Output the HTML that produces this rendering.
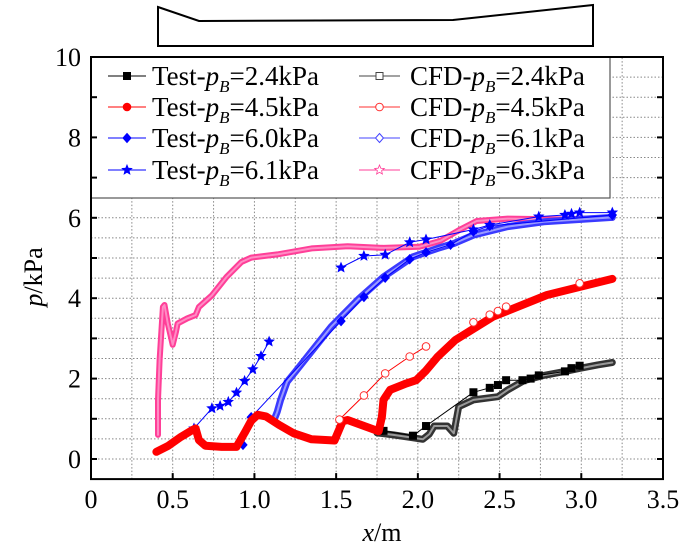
<!DOCTYPE html>
<html><head><meta charset="utf-8"><style>
body{margin:0;background:#fff;}
svg{display:block;}
svg text{font-family:"Liberation Serif","DejaVu Serif","Times New Roman",serif;}
</style></head><body>
<svg id="chart" width="700" height="549" viewBox="0 0 700 549" xmlns="http://www.w3.org/2000/svg">
<polygon points="158,7 199,21 453,20 593,5 593,46 158,46" fill="none" stroke="#000" stroke-width="2"/>
<g id="grid"></g>
<g id="series"></g>
<rect x="91" y="57" width="519" height="141" fill="#fff" stroke="#555" stroke-width="1.2"/>
<g id="legend"></g>
<g id="axes"></g>
<text transform="translate(42,277) rotate(-90)" text-anchor="middle" font-size="26"><tspan font-style="italic">p</tspan>/kPa</text>
<text x="382" y="541" text-anchor="middle" font-size="26"><tspan font-style="italic">x</tspan>/m</text>
</svg>
<script>
const xTicks=[0,0.5,1.0,1.5,2.0,2.5,3.0,3.5];
const xTickLabels=["0","0.5","1.0","1.5","2.0","2.5","3.0","3.5"];
const yTicks=[0,2,4,6,8,10];
const yTickLabels=["0","2","4","6","8","10"];
// Test 2.4
const t24x=[1.79,1.97,2.05,2.34,2.44,2.49,2.54,2.64,2.69,2.74,2.90,2.94,2.99];
const t24y=[0.70,0.58,0.82,1.66,1.77,1.84,1.96,1.96,2.00,2.08,2.18,2.26,2.32];
// CFD 2.4
const c24x=[1.75,1.85,1.95,2.03,2.07,2.10,2.18,2.22,2.25,2.34,2.49,2.55,2.65,2.77,2.9,3.0,3.1,3.19];
const c24y=[0.65,0.6,0.54,0.49,0.62,0.82,0.82,0.64,1.3,1.47,1.55,1.72,1.95,2.08,2.18,2.26,2.34,2.40];
// Test 4.5
const t45x=[0.40,0.47,0.55,0.62,0.64,0.66,0.70,0.80,0.89,0.94,0.98,1.02,1.07,1.15,1.24,1.35,1.49,1.54,1.57,1.76,1.78,1.79,1.83,1.93,1.99,2.05,2.12,2.23,2.46,2.79,3.19];
const t45y=[0.18,0.32,0.55,0.72,0.76,0.47,0.33,0.30,0.30,0.65,0.95,1.10,1.06,0.85,0.64,0.49,0.46,0.94,0.97,0.69,1.05,1.47,1.72,1.88,1.96,2.2,2.54,2.96,3.54,4.08,4.48];
// CFD 4.5
const c45x=[1.52,1.67,1.80,1.95,2.05,2.34,2.44,2.49,2.54,2.99];
const c45y=[0.98,1.58,2.13,2.55,2.80,3.40,3.59,3.68,3.79,4.37];
// Test 6.0
const t60x=[0.93,0.98,1.53,1.67,1.80,1.95,2.05,2.20,2.34,2.44,3.19];
const t60y=[0.35,1.04,3.43,4.03,4.51,4.97,5.14,5.33,5.66,5.80,6.07];
// CFD 6.1
const c61x=[1.12,1.14,1.16,1.20,1.25,1.34,1.47,1.64,1.79,1.97,2.12,2.22,2.34,2.55,2.77,3.19];
const c61y=[0.97,1.18,1.47,1.92,2.17,2.63,3.29,3.99,4.53,5.03,5.24,5.36,5.57,5.78,5.90,6.01];
// Test 6.1
const t61x=[0.63,0.74,0.79,0.84,0.89,0.94,0.99,1.04,1.09];
const t61y=[0.76,1.26,1.32,1.42,1.65,1.94,2.23,2.56,2.92];
const t61bx=[1.53,1.67,1.80,1.95,2.05,2.34,2.44,2.74,2.90,2.94,2.99,3.19];
const t61by=[4.76,5.05,5.08,5.39,5.46,5.71,5.82,6.03,6.07,6.10,6.13,6.13];
// CFD 6.3
const c63x=[0.41,0.41,0.42,0.44,0.45,0.47,0.50,0.52,0.53,0.59,0.64,0.66,0.74,0.83,0.92,0.98,1.14,1.35,1.57,1.79,2.01,2.14,2.25,2.36,2.55,2.88,3.19];
const c63y=[0.6,1.47,2.46,3.78,3.83,3.37,2.84,3.17,3.37,3.5,3.58,3.78,4.07,4.53,4.9,5.01,5.09,5.24,5.29,5.25,5.28,5.43,5.69,5.92,5.98,5.96,6.0];

const NS="http://www.w3.org/2000/svg";
const X0=91,X1=663,Y0=459,Y10=57;
function sx(v){return X0+(X1-X0)*v/3.5;}
function sy(v){return Y0+(Y10-Y0)*v/10;}
function mk(tag,attrs,parent){const e=document.createElementNS(NS,tag);for(const k in attrs)e.setAttribute(k,attrs[k]);parent.appendChild(e);return e;}
const grid=document.getElementById('grid'),ser=document.getElementById('series'),axes=document.getElementById('axes'),leg=document.getElementById('legend');
for(let v=0.25;v<3.5;v+=0.25){const l=mk('line',{x1:sx(v),x2:sx(v),y1:sy(-0.5),y2:sy(10),stroke:'#888','stroke-width':1,'stroke-dasharray':'1.5,2'},grid);

}
for(let v=0;v<10;v+=0.5){const l=mk('line',{x1:X0,x2:X1,y1:sy(v),y2:sy(v),stroke:'#888','stroke-width':1,'stroke-dasharray':'1.5,2'},grid);

}

function pts(xs,ys){return xs.map((x,i)=>sx(x).toFixed(1)+','+sy(ys[i]).toFixed(1)).join(' ');}
function line(xs,ys,color,w,name){const p=mk('polyline',{points:pts(xs,ys),fill:'none',stroke:color,'stroke-width':w,'stroke-linejoin':'round','stroke-linecap':'round'},ser);

}
function star(cx,cy,r){let s='';for(let i=0;i<10;i++){const a=-Math.PI/2+i*Math.PI/5,rr=i%2?r*0.45:r;s+=(cx+rr*Math.cos(a)).toFixed(1)+','+(cy+rr*Math.sin(a)).toFixed(1)+' ';}return s;}
function marker(type,cx,cy,color,fill,parent,name){let e;
if(type==='sq')e=mk('rect',{x:cx-3.5,y:cy-3.5,width:7,height:7,fill:fill,stroke:color,'stroke-width':1},parent);
else if(type==='ci')e=mk('circle',{cx:cx,cy:cy,r:3.8,fill:fill,stroke:color,'stroke-width':1},parent);
else if(type==='di')e=mk('polygon',{points:`${cx},${cy-4.5} ${cx+4},${cy} ${cx},${cy+4.5} ${cx-4},${cy}`,fill:fill,stroke:color,'stroke-width':1},parent);
else e=mk('polygon',{points:star(cx,cy,5),fill:fill,stroke:color,'stroke-width':0.8},parent);

}
function markers(xs,ys,type,color,fill,name){xs.forEach((x,i)=>marker(type,sx(x),sy(ys[i]),color,fill,ser,name));}

line(c63x,c63y,'#ff3f98',6,'cfd-6.3-line');
line(c63x,c63y,'#ff8cc4',2,'cfd-6.3-line-inner');
line(c61x,c61y,'#3a3aff',7,'cfd-6.1-line');
line(c61x,c61y,'#9a9aff',2,'cfd-6.1-line-inner');
line(t60x,t60y,'#0000ff',1,'test-6.0-line');
markers(t60x,t60y,'di','#0000ff','#0000ff','test-6.0-marker');
line(t61x,t61y,'#0000ff',1,'test-6.1-line-a');
line(t61bx,t61by,'#0000ff',1,'test-6.1-line-b');
markers(t61x,t61y,'st','#0000ff','#0000ff','test-6.1-marker');
markers(t61bx,t61by,'st','#0000ff','#0000ff','test-6.1-marker');
line(c24x,c24y,'#333',7,'cfd-2.4-line');
line(c24x,c24y,'#999',2,'cfd-2.4-line-inner');
line(t24x,t24y,'#000',1,'test-2.4-line');
markers(t24x,t24y,'sq','#000','#000','test-2.4-marker');
line(t45x,t45y,'#ff0000',8,'test-4.5-line');
line(c45x.slice(0,5),c45y.slice(0,5),'#ff0000',1,'cfd-4.5-line');
markers(c45x,c45y,'ci','#ff3030','#fff','cfd-4.5-marker');

const frame=mk('rect',{x:X0,y:Y10,width:X1-X0,height:sy(-0.5)-Y10,fill:'none',stroke:'#000','stroke-width':2},axes);


for(let v=0;v<=10;v++){[[X0,X0+6],[X1,X1-6]].forEach(([a,b])=>{const t=mk('line',{x1:a,x2:b,y1:sy(v),y2:sy(v),stroke:'#000','stroke-width':2},axes);

});}
yTicks.forEach((v,i)=>{const t=mk('text',{x:X0-10,y:sy(v)+9,'text-anchor':'end','font-size':26},axes);t.textContent=yTickLabels[i];

});
xTicks.forEach((v,i)=>{const tk=mk('line',{x1:sx(v),x2:sx(v),y1:sy(-0.5),y2:sy(-0.5)-6,stroke:'#000','stroke-width':2},axes);


const t=mk('text',{x:sx(v),y:508,'text-anchor':'middle','font-size':26},axes);t.textContent=xTickLabels[i];

});

const legNames=['2.4','4.5','6.0','6.1'];
const cfdNames=['2.4','4.5','6.1','6.3'];
const legT=[['sq','#000','#000'],['ci','#ff0000','#ff0000'],['di','#0000ff','#0000ff'],['st','#0000ff','#0000ff']];
const legC=[['sq','#444','#fff'],['ci','#ff3030','#fff'],['di','#4444ff','#fff'],['st','#ff3f98','#fff']];
const rowsY=[76,107,138,170];
function legEntry(x1,x2,tx,y,m,prefix,val,name){const g=mk('g',{},leg);


mk('line',{x1:x1,x2:x2,y1:y,y2:y,stroke:m[1],'stroke-width':1},g);
marker(m[0],(x1+x2)/2,y,m[1],m[2],g,'legend-marker');
const t=mk('text',{x:tx,y:y+9,'font-size':27},g);
t.innerHTML=prefix+'-<tspan font-style="italic">p</tspan><tspan font-style="italic" font-size="17" dy="7">B</tspan><tspan dy="-7">='+val+'kPa</tspan>';}
rowsY.forEach((y,i)=>{legEntry(108,146,152,y,legT[i],'Test',legNames[i],'legend-entry-test-'+legNames[i]);
legEntry(359,400,410,y,legC[i],'CFD',cfdNames[i],'legend-entry-cfd-'+cfdNames[i]);});
</script>
</body></html>
